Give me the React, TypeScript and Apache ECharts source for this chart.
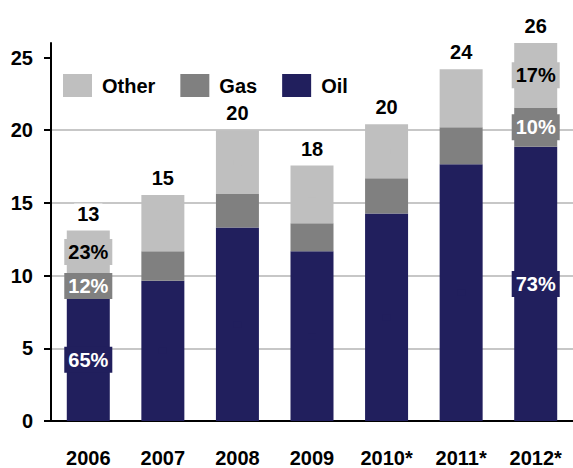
import React, { useEffect, useRef } from "react";
import * as echarts from "echarts";

const categories = ["2006", "2007", "2008", "2009", "2010*", "2011*", "2012*"];
const oilValues = [8.42, 9.65, 13.31, 11.68, 14.27, 17.66, 18.86];
const gasValues = [1.73, 2.03, 2.3, 1.92, 2.42, 2.55, 2.7];
const otherValues = [2.95, 3.86, 4.39, 3.97, 3.72, 3.99, 4.44];
const totalLabels = ["13", "15", "20", "18", "20", "24", "26"];
const oilPct = ["65%", "", "", "", "", "", "73%"];
const gasPct = ["12%", "", "", "", "", "", "10%"];
const otherPct = ["23%", "", "", "", "", "", "17%"];
const yTicks = [0, 5, 10, 15, 20, 25];

const FONT = "'Liberation Sans', Arial, Helvetica, sans-serif";
const OIL = "#211f5d";
const GAS = "#808080";
const OTHER = "#bfbfbf";

function pctLabel(bg: string, color: string, texts: string[]) {
  return {
    show: true,
    position: "inside",
    formatter: (p: any) => texts[p.dataIndex] || "",
    color,
    fontFamily: FONT,
    fontWeight: "bold",
    fontSize: 20,
    backgroundColor: bg,
    padding: [3, 4, 3, 4],
  };
}

export default function App() {
  const ref = useRef<HTMLDivElement>(null);
  useEffect(() => {
    if (!ref.current) return;
    const chart = echarts.init(ref.current, null, { renderer: "svg" });
    const barWidth = 43;
    chart.setOption({
      animation: false,
      backgroundColor: "#ffffff",
      textStyle: { fontFamily: FONT },
      grid: { left: 51, right: -4, top: 43, bottom: 40, containLabel: false },
      legend: {
        data: ["Other", "Gas", "Oil"],
        left: 63,
        top: 74,
        padding: 0,
        itemWidth: 29,
        itemHeight: 23,
        itemGap: 25,
        icon: "rect",
        textStyle: {
          fontFamily: FONT,
          fontWeight: "bold",
          fontSize: 20,
          color: "#000",
          padding: [0, 0, 0, 5],
        },
      },
      xAxis: {
        type: "category",
        data: categories,
        axisLine: { show: true, lineStyle: { color: "#000", width: 2 } },
        axisTick: { show: false },
        axisLabel: {
          color: "#000",
          fontFamily: FONT,
          fontWeight: "bold",
          fontSize: 20,
          margin: 27,
        },
      },
      yAxis: {
        type: "value",
        min: 0,
        max: 26,
        interval: 5,
        axisLine: { show: true, lineStyle: { color: "#000", width: 2 } },
        axisTick: {
          show: true,
          length: 7,
          inside: false,
          lineStyle: { color: "#000", width: 2 },
          customValues: yTicks,
        },
        axisLabel: {
          color: "#000",
          fontFamily: FONT,
          fontWeight: "bold",
          fontSize: 20,
          margin: 18,
          customValues: yTicks,
        },
        splitLine: {
          show: true,
          showMaxLine: false,
          showMinLine: false,
          lineStyle: { color: "#b5b5b5", width: 1.5 },
        },
      },
      series: [
        {
          name: "Oil",
          type: "bar",
          stack: "total",
          barWidth,
          data: oilValues,
          itemStyle: { color: OIL },
          label: pctLabel(OIL, "#fff", oilPct),
        },
        {
          name: "Gas",
          type: "bar",
          stack: "total",
          barWidth,
          data: gasValues,
          itemStyle: { color: GAS },
          label: pctLabel(GAS, "#fff", gasPct),
        },
        {
          name: "Other",
          type: "bar",
          stack: "total",
          barWidth,
          data: otherValues,
          itemStyle: { color: OTHER },
          label: pctLabel(OTHER, "#000", otherPct),
        },
        {
          name: "Total",
          type: "bar",
          stack: "total",
          barWidth,
          clip: false,
          data: categories.map(() => 0),
          itemStyle: { color: "transparent" },
          label: {
            show: true,
            position: "top",
            distance: 7,
            formatter: (p: any) => totalLabels[p.dataIndex],
            color: "#000",
            fontFamily: FONT,
            fontWeight: "bold",
            fontSize: 20,
            backgroundColor: "#fff",
            padding: [0, 3, 0, 3],
          },
        },
      ],
    });
    return () => chart.dispose();
  }, []);
  return (
    <div
      ref={ref}
      style={{ position: "fixed", left: 0, top: 0, width: 573, height: 468 }}
    />
  );
}
